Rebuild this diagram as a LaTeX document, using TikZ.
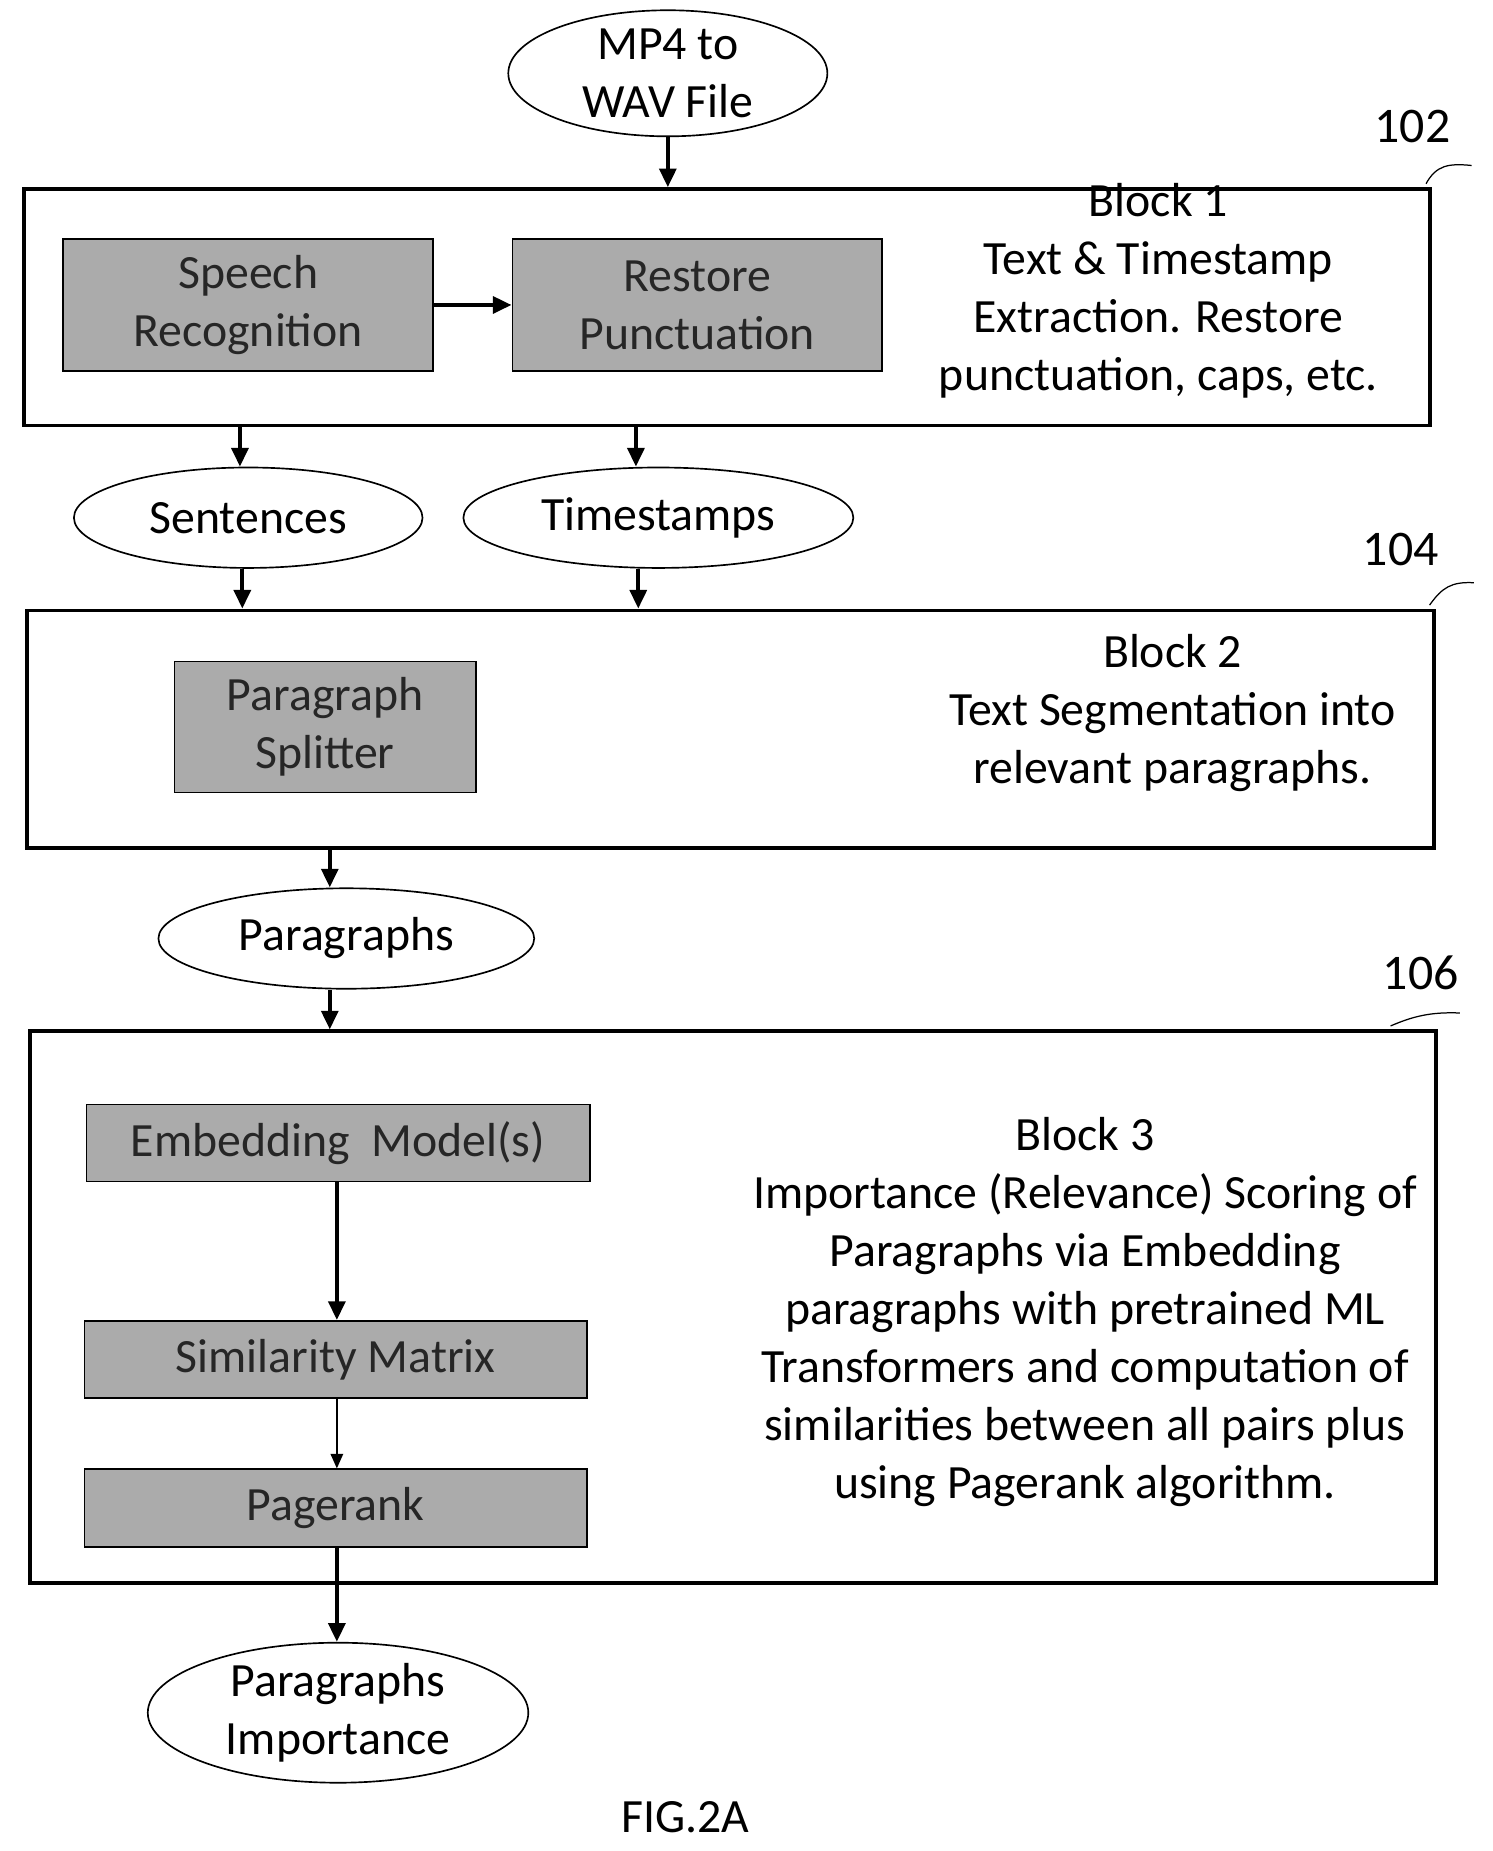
\documentclass[tikz,border=0pt]{standalone}
\usepackage{fontspec}
\setmainfont{Carlito}
\usetikzlibrary{positioning,arrows.meta,shapes.geometric}

\tikzset{
  blk/.style={draw,line width=1.8pt,inner sep=0pt},
  gbox/.style={draw,line width=0.8pt,fill=black!33,inner sep=0pt,align=center,text=black!85},
  oval/.style={ellipse,draw,line width=0.8pt,inner sep=0pt,align=center},
  arr/.style={-{Triangle[length=9pt,width=8pt]},line width=2pt},
  thinarr/.style={-{Triangle[length=7pt,width=6pt]},line width=0.8pt},
  txt/.style={align=center},
  refno/.style={font=\fontsize{24}{28}\selectfont}
}

\begin{document}
\begin{tikzpicture}[x=0.02cm,y=-0.02cm,font=\fontsize{23}{28}\selectfont]
    \useasboundingbox (0,0) rectangle (1263,1566);

    \node[oval,minimum width=5.4cm,minimum height=1.6cm] (mp4) at (565,62) {MP4 to\\WAV File};

    % block 1
    \node[blk,minimum width=23.8cm,minimum height=4cm] (blk1) at (615,260) {};
    \node[gbox,minimum width=6.26cm,minimum height=2.24cm] (speech) at (210,258) {Speech\\Recognition};
    \node[gbox,minimum width=6.26cm,minimum height=2.24cm] (punct) at (590,258) {Restore\\Punctuation};
    \node[txt] (t1) at (980,246) {Block 1\\Text \& Timestamp\\Extraction. Restore\\punctuation, caps, etc.};
    \node[refno] (n102) at (1195,107) {102};
    \draw[line width=0.6pt] (blk1.north east) ++(-5,-3) .. controls (1215,140) and (1225,138) .. (1245,140);

    \node[oval,minimum width=5.9cm,minimum height=1.7cm] (sent) at (210,438) {Sentences};
    \node[oval,minimum width=6.6cm,minimum height=1.7cm] (stamp) at (557,438) {Timestamps};

    % block 2
    \node[blk,minimum width=23.8cm,minimum height=4.02cm] (blk2) at (618,617) {};
    \node[gbox,minimum width=5.1cm,minimum height=2.22cm] (split) at (275,615) {Paragraph\\Splitter};
    \node[txt] (t2) at (992,603) {Block 2\\Text Segmentation into\\relevant paragraphs.};
    \node[refno] (n104) at (1185,465) {104};
    \draw[line width=0.6pt] (blk2.north east) ++(-5,-3) .. controls (1220,497) and (1228,492) .. (1247,493);

    \node[oval,minimum width=6.36cm,minimum height=1.7cm] (para) at (293,794) {Paragraphs};

    % block 3
    \node[blk,minimum width=23.8cm,minimum height=9.34cm] (blk3) at (620,1106) {};
    \node[gbox,minimum width=8.52cm,minimum height=1.3cm] (embed) at (286,967) {Embedding\ \ Model(s)};
    \node[gbox,minimum width=8.5cm,minimum height=1.3cm] (simil) at (284,1150) {Similarity Matrix};
    \node[gbox,minimum width=8.5cm,minimum height=1.32cm] (prank) at (284,1276) {Pagerank};
    \node[txt] (t3) at (918,1110) {Block 3\\Importance (Relevance) Scoring of\\Paragraphs via Embedding\\paragraphs with pretrained ML\\Transformers and computation of\\similarities between all pairs plus\\using Pagerank algorithm.};
    \node[refno] (n106) at (1202,823) {106};
    \draw[line width=0.6pt] (blk3.north east) ++(-40,-3) .. controls (1195,860) and (1210,856) .. (1235,857);

    \node[oval,minimum width=6.44cm,minimum height=2cm] (imp) at (286,1449) {Paragraphs\\Importance};

    \node (fig) at (580,1537) {FIG.2A};

    \draw[arr] (mp4) -- (blk1.north -| mp4);
    \draw[arr] (speech) -- (punct);
    \draw[arr] (blk1.south -| 203,0) -- (sent.north -| 203,0);
    \draw[arr] (blk1.south -| 538,0) -- (stamp.north -| 538,0);
    \draw[arr] (sent.south -| 205,0) -- (blk2.north -| 205,0);
    \draw[arr] (stamp.south -| 540,0) -- (blk2.north -| 540,0);
    \draw[arr] (blk2.south -| 279,0) -- (para.north -| 279,0);
    \draw[arr] (para.south -| 279,0) -- (blk3.north -| 279,0);
    \draw[arr] (embed.south -| 285,0) -- (simil.north -| 285,0);
    \draw[thinarr] (simil.south -| 285,0) -- (prank.north -| 285,0);
    \draw[arr] (prank.south -| 285,0) -- (imp.north -| 285,0);
\end{tikzpicture}
\end{document}
